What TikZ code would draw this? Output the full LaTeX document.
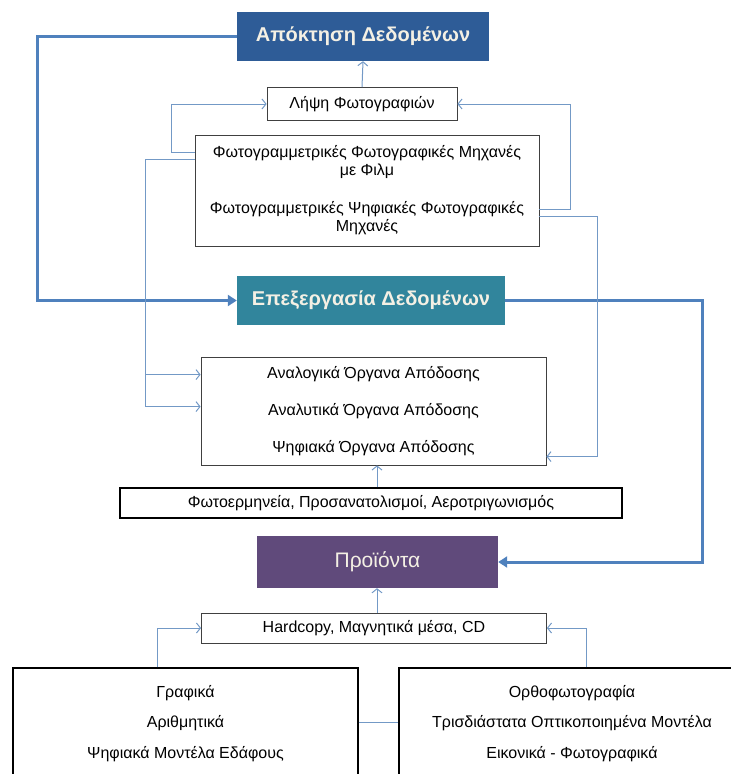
\documentclass[tikz,border=0pt]{standalone}
\usepackage{fontspec}
\setmainfont{Liberation Sans}
\usetikzlibrary{arrows.meta}
\definecolor{AcqBlue}{HTML}{2E5C97}
\definecolor{ProcTeal}{HTML}{31859C}
\definecolor{ProdPurple}{HTML}{604A7B}
\definecolor{FlowBlue}{HTML}{4F81BD}
\definecolor{LinkBlue}{HTML}{7399C6}
\definecolor{BoxGray}{HTML}{404040}
\definecolor{HeadText}{HTML}{F4F0E4}

\begin{document}
\begin{tikzpicture}[
	x=1pt, y=-1pt, % one unit is one pixel of the layout, y runs downwards
	% Style for the coloured stage headers
	stage/.style={
		rectangle,
		text=HeadText,        % Header text colour
		minimum height=51pt,
		inner sep=0pt,
		font=\fontsize{20}{24}\selectfont\bfseries
	},
	% Style for the white boxes
	item/.style={
		rectangle,
		draw=BoxGray,         % Thin dark outline
		fill=white,
		align=center,
		inner sep=0pt,
		line width=0.8pt,
		font=\fontsize{16}{18}\selectfont
	},
	% Style for the boxes with a heavy black outline
	heavy/.style={
		item,
		draw=black,
		line width=1.5pt
	},
	% Style for the main flow between the stages
	flow/.style={
		draw=FlowBlue,
		line width=3pt,
		-{Triangle[length=9pt,width=11pt]}
	},
	% Style for the thin links between the boxes
	link/.style={
		draw=LinkBlue,
		line width=1pt,
		-{Straight Barb[length=4pt,width=10pt]}
	}
	]
	\useasboundingbox (0,0) rectangle (731,774);
	
	% 1. Stages and boxes
	\node[stage, fill=AcqBlue, minimum width=252pt, minimum height=49pt] (acq) at (363,36.5) {Απόκτηση Δεδομένων};
	\node[item, minimum width=190pt, minimum height=33pt] (photo) at (362,104) {Λήψη Φωτογραφιών};
	\node[item, minimum width=344pt, minimum height=111pt] (cams) at (367,190.5)
		{Φωτογραμμετρικές Φωτογραφικές Μηχανές\\με Φιλμ\\[20pt]Φωτογραμμετρικές Ψηφιακές Φωτογραφικές\\Μηχανές};
	
	\node[stage, fill=ProcTeal, minimum width=268pt, minimum height=49pt] (proc) at (371,300.5) {Επεξεργασία Δεδομένων};
	\node[item, minimum width=345pt, minimum height=108pt] (instr) at (373.5,411)
		{Αναλογικά Όργανα Απόδοσης\\[19pt]Αναλυτικά Όργανα Απόδοσης\\[19pt]Ψηφιακά Όργανα Απόδοσης};
	\node[heavy, minimum width=502pt, minimum height=30pt] (interp) at (371,503) {Φωτοερμηνεία, Προσανατολισμοί, Αεροτριγωνισμός};
	
	\node[stage, fill=ProdPurple, minimum width=241pt, minimum height=52pt, font=\fontsize{21}{24}\selectfont] (prod) at (377.5,562) {Προϊόντα};
	\node[item, minimum width=345pt, minimum height=30pt] (media) at (374,628) {Hardcopy, Μαγνητικά μέσα, CD};
	\node[heavy, line width=1.2pt, minimum width=345pt, minimum height=111pt] (graph) at (185.5,723.5)
		{Γραφικά\\[12.5pt]Αριθμητικά\\[12.5pt]Ψηφιακά Μοντέλα Εδάφους};
	\node[heavy, line width=1.2pt, minimum width=346pt, minimum height=111pt] (ortho) at (572,723.5)
		{Ορθοφωτογραφία\\[12.5pt]Τρισδιάστατα Οπτικοποιημένα Μοντέλα\\[12.5pt]Εικονικά - Φωτογραφικά};
	
	% 2. Main flow
	\draw[flow] (acq.west) -- ++(-199,0) |- (proc.west);
	\draw[flow] (proc.east) -- ++(197,0) |- (prod.east);
	
	% 3. Thin links
	\draw[link] (photo.north) -- (acq.south);
	\draw[link] ([yshift=-18pt]cams.north west) -- ++(-23,0) |- (photo.west);
	\draw[link] ([yshift=-75pt]cams.north east) -- ++(31,0) |- (photo.east);
	\draw[link] ([yshift=-25pt]cams.north west) -- ++(-49,0) coordinate (split) |- ([yshift=-50pt]instr.north west);
	\draw[link] (split |- instr.north west) ++(0,18) -- ([yshift=-18pt]instr.north west);
	\draw[link] ([yshift=-82pt]cams.north east) -- ++(58,0) |- ([yshift=-100pt]instr.north east);
	\draw[link] ([xshift=6pt]interp.north) -- ([xshift=6pt]interp.north |- instr.south);
	\draw[link] ([xshift=3pt]media.north) -- ([xshift=3pt]media.north |- prod.south);
	\draw[link] ([xshift=145pt]graph.north west) |- (media.west);
	\draw[link] ([xshift=188pt]ortho.north west) |- (media.east);
	\draw[draw=LinkBlue, line width=1pt] ([yshift=1pt]graph.east) -- ([yshift=1pt]ortho.west);
	
\end{tikzpicture}
\end{document}
